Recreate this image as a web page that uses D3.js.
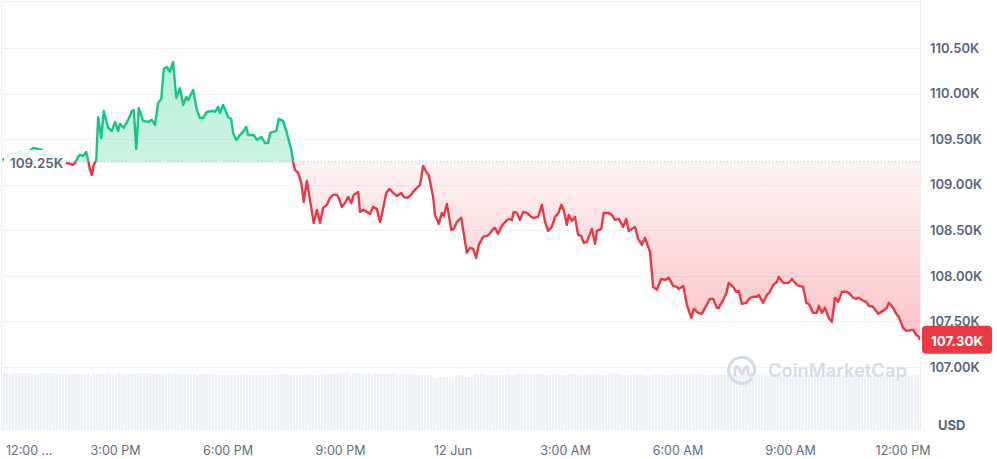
<!DOCTYPE html>
<html><head><meta charset="utf-8">
<script src="https://cdn.jsdelivr.net/npm/d3@7/dist/d3.min.js"></script>
<style>
html,body{margin:0;padding:0;background:#fff;}
svg{display:block;font-family:Inter,"Noto Sans",sans-serif;}
</style></head>
<body><svg id="c" width="997" height="459"></svg>
<script>
// minutes after 11 Jun 12:00 PM
const minutes = [0,12,28,36,49,57,63,68,76,84,92,102,108,113,116,121,124,129,134,137,140,143,146,150,153,158,162,169,175,180,185,188,194,201,207,210,214,218,225,233,239,244,249,254,258,263,268,273,278,284,289,294,297,305,311,316,321,327,335,340,345,348,353,361,366,369,374,380,386,390,393,402,407,414,420,425,428,438,442,449,455,462,465,468,473,478,482,487,498,503,508,513,519,524,529,535,538,543,548,553,558,562,569,572,577,583,588,593,599,604,607,614,619,625,631,638,642,647,654,657,663,668,673,679,682,689,692,698,703,706,711,718,722,727,734,737,743,748,753,758,762,769,775,778,785,788,793,799,806,810,815,818,823,828,833,839,846,850,857,863,868,873,879,884,889,894,898,903,906,911,916,921,926,930,935,943,948,951,958,962,969,975,980,986,993,998,1002,1012,1017,1023,1028,1036,1041,1047,1054,1060,1066,1073,1079,1082,1089,1095,1102,1106,1113,1119,1124,1132,1137,1143,1146,1153,1158,1162,1169,1174,1178,1183,1190,1196,1201,1207,1210,1217,1223,1228,1233,1239,1242,1249,1254,1258,1263,1268,1274,1281,1286,1290,1297,1303,1306,1311,1316,1322,1327,1332,1337,1343,1350,1354,1361,1366,1370,1377,1382,1386,1393,1401,1409,1415,1418,1425,1430,1434,1441,1446,1457,1462,1466,1468];
const prices = [109272,109327,109360,109327,109404,109393,109382,109327,109327,109294,109272,109239,109228,109217,109239,109305,109327,109316,109360,109272,109162,109107,109217,109272,109743,109513,109809,109623,109590,109689,109590,109667,109623,109711,109809,109820,109393,109842,109700,109689,109711,109656,109897,109941,110270,110292,110237,110347,109952,110061,109875,109963,109930,110039,109820,109732,109732,109798,109809,109798,109853,109787,109875,109743,109721,109568,109491,109546,109590,109634,109546,109546,109491,109524,109458,109458,109568,109590,109721,109700,109568,109382,109250,109162,109129,109020,108811,109042,108581,108724,108581,108746,108779,108855,108888,108888,108855,108757,108800,108866,108800,108888,108921,108702,108724,108702,108680,108757,108735,108592,108669,108910,108954,108910,108877,108910,108866,108855,108888,108921,108965,108998,109206,109129,109107,108866,108669,108570,108691,108658,108789,108504,108515,108592,108636,108504,108252,108307,108296,108197,108340,108428,108439,108450,108515,108526,108461,108548,108603,108625,108614,108702,108691,108614,108702,108691,108647,108636,108647,108779,108592,108493,108537,108647,108680,108779,108724,108559,108669,108603,108647,108450,108439,108362,108373,108515,108351,108493,108515,108691,108691,108669,108614,108625,108537,108625,108493,108537,108406,108340,108417,108263,107879,107847,107967,107956,107978,107890,107879,107857,107890,107682,107539,107638,107594,107583,107649,107748,107748,107649,107649,107737,107803,107923,107879,107825,107836,107693,107704,107759,107770,107770,107792,107704,107792,107825,107901,107934,107989,107923,107923,107923,107967,107923,107890,107879,107704,107693,107594,107594,107671,107594,107649,107539,107496,107759,107715,107825,107825,107814,107759,107748,107759,107726,107715,107671,107660,107583,107616,107649,107704,107649,107583,107550,107430,107397,107408,107353,107331,107300];
// 5-minute volume bars (relative units)
const volumes = [57,56,56,57,57,57,57,57,57,57,56,56,57,57,57,57,57,56,56,56,56,56,56,56,56,56,55,56,54,56,56,56,56,57,56,55,55,57,56,57,56,57,56,57,57,57,57,57,56,57,56,56,57,56,56,57,56,56,56,56,56,55,54,56,56,56,56,56,55,55,55,55,55,55,55,55,56,55,55,55,55,55,55,55,55,55,56,55,55,56,56,56,55,55,55,55,55,55,56,55,55,55,56,56,56,56,57,56,57,56,57,55,57,57,57,56,57,56,56,57,56,56,57,56,56,57,55,55,56,56,56,56,55,55,55,55,55,55,52,52,53,53,53,53,53,55,55,55,53,53,53,56,56,56,55,55,55,55,55,55,
55,56,56,55,55,56,56,56,55,55,56,56,57,56,55,55,56,56,55,55,55,56,56,56,55,54,55,55,56,56,56,55,55,55,56,56,57,56,55,55,55,55,56,56,55,55,54,54,55,55,56,56,55,55,55,56,56,55,55,56,56,57,56,56,55,55,55,56,56,55,55,55,56,56,56,55,55,55,56,56,55,55,56,57,56,55,55,56,56,55,55,54,55,55,56,56,56,55,55,55,56,56,55,55,55,56,56,56,55,55,56,56,55,55,56,56,55,55,55,56,56,55,55,56,56,56,55,55,55,56,56,55,56,55];
const baseline = 109250;
const lastPrice = 107300;
const yTicks = [107000,107500,108000,108500,109000,109500,110000,110500];
const xTickHours = [0,3,6,9,12,15,18,21,24];
const xTickLabels = ["12:00 ...","3:00 PM","6:00 PM","9:00 PM","12 Jun","3:00 AM","6:00 AM","9:00 AM","12:00 PM"];

const GREEN="#16c784", RED="#ea3943", GRID="#eff2f5", TXT="#58667e";
const t0 = new Date(2025,5,11,12,0);
const T = m => new Date(t0.getTime()+m*60000);
const data = minutes.map((m,i)=>({t:T(m), v:prices[i]}));

const svg = d3.select("#c");
const L=2.5, R=920, TOP=1.5, BOT=430;
const x = d3.scaleTime().domain([T(0),T(1468)]).range([L,R]);
const y = d3.scaleLinear().domain([107000,110500]).range([367,48]);
const yv = d3.scaleLinear().domain([0,60]).range([BOT,BOT-60]);
const yb = y(baseline);

const defs = svg.append("defs");
const gg = defs.append("linearGradient").attr("id","gG").attr("gradientUnits","userSpaceOnUse").attr("x1",0).attr("x2",0).attr("y1",y(110350)).attr("y2",yb);
gg.append("stop").attr("offset",0).attr("stop-color",GREEN).attr("stop-opacity",0.3);
gg.append("stop").attr("offset",1).attr("stop-color",GREEN).attr("stop-opacity",0.22);
const rg = defs.append("linearGradient").attr("id","gR").attr("gradientUnits","userSpaceOnUse").attr("x1",0).attr("x2",0).attr("y1",yb).attr("y2",y(107300));
rg.append("stop").attr("offset",0).attr("stop-color",RED).attr("stop-opacity",0.06);
rg.append("stop").attr("offset",1).attr("stop-color",RED).attr("stop-opacity",0.3);
defs.append("clipPath").attr("id","cA").append("rect").attr("x",0).attr("y",0).attr("width",R).attr("height",yb);
defs.append("clipPath").attr("id","cB").append("rect").attr("x",0).attr("y",yb).attr("width",R).attr("height",BOT-yb);

// frame
svg.append("line").attr("x1",1.5).attr("x2",R).attr("y1",TOP).attr("y2",TOP).attr("stroke","#eeeeee");
svg.append("line").attr("x1",1.5).attr("x2",1.5).attr("y1",TOP).attr("y2",BOT).attr("stroke","#eeeeee");
svg.append("line").attr("x1",R+0.5).attr("x2",R+0.5).attr("y1",TOP).attr("y2",BOT).attr("stroke","#eeeeee");

// grid
svg.append("g").selectAll("line").data(yTicks).join("line")
  .attr("x1",L).attr("x2",R).attr("y1",d=>Math.round(y(d))+0.5).attr("y2",d=>Math.round(y(d))+0.5)
  .attr("stroke",GRID).attr("stroke-width",1);

// volume
const bw = (R-L)/volumes.length;
svg.append("g").selectAll("rect").data(volumes).join("rect")
  .attr("x",(d,i)=>L+i*bw).attr("width",bw-0.7)
  .attr("y",d=>yv(d)).attr("height",d=>BOT-yv(d)).attr("fill","#edf0f4");

// watermark
const wm = svg.append("g").attr("transform","translate(742,370)");
wm.append("path").attr("d","M 9.5 9 A 13 13 0 1 1 12.5 3").attr("fill","none").attr("stroke","#d6dce6").attr("stroke-width",3.2).attr("stroke-linecap","round");
wm.append("path").attr("d","M -7 5 L -7 -1 Q -6 -5 -3.5 -2 L -1 3 Q 0 5 1 3 L 3 -2 Q 5 -5 6 -1 L 6 3 Q 7 7 11 4").attr("fill","none").attr("stroke","#d6dce6").attr("stroke-width",3).attr("stroke-linecap","round").attr("stroke-linejoin","round");
svg.append("text").attr("x",768).attr("y",377).text("CoinMarketCap")
  .attr("font-size",18.4).attr("font-weight",600).attr("fill","#d6dce6");

// areas
const area = d3.area().x(d=>x(d.t)).y0(yb).y1(d=>y(d.v));
svg.append("path").datum(data).attr("d",area).attr("fill","url(#gG)").attr("clip-path","url(#cA)");
svg.append("path").datum(data).attr("d",area).attr("fill","url(#gR)").attr("clip-path","url(#cB)");

// baseline dotted
svg.append("line").attr("x1",L).attr("x2",R).attr("y1",yb).attr("y2",yb)
  .attr("stroke","#a6b0c3").attr("stroke-width",1).attr("stroke-dasharray","1 2.5");

// lines
const line = d3.line().x(d=>x(d.t)).y(d=>y(d.v));
svg.append("path").datum(data).attr("d",line).attr("fill","none").attr("stroke",GREEN).attr("stroke-width",2.4).attr("stroke-linejoin","round").attr("clip-path","url(#cA)");
svg.append("path").datum(data).attr("d",line).attr("fill","none").attr("stroke",RED).attr("stroke-width",2.4).attr("stroke-linejoin","round").attr("clip-path","url(#cB)");

// baseline label
svg.append("rect").attr("x",4).attr("y",yb-12).attr("width",62).attr("height",25).attr("fill","#fff").attr("opacity",0.85);
svg.append("text").attr("x",10).attr("y",yb+1).attr("dominant-baseline","central")
  .attr("font-size",13.4).attr("font-weight",600).attr("fill",TXT).text(d3.format(".2f")(baseline/1000)+"K");

// y axis
const ya = svg.append("g").attr("transform",`translate(${R},0)`)
  .call(d3.axisRight(y).tickValues(yTicks).tickSize(0).tickPadding(10).tickFormat(d=>d3.format(".2f")(d/1000)+"K"));
ya.select(".domain").remove();
ya.selectAll("text").attr("font-family","Inter,sans-serif").attr("font-size",13).attr("font-weight",600).attr("fill",TXT);

// x axis
const xa = svg.append("g").attr("transform",`translate(0,440)`)
  .call(d3.axisBottom(x).tickValues(xTickHours.map(h=>T(h*60))).tickSize(0).tickPadding(6).tickFormat((d,i)=>xTickLabels[i]));
xa.select(".domain").remove();
xa.selectAll("text").attr("font-family","Inter,sans-serif").attr("font-size",12.5).attr("fill","#616e85");
xa.selectAll(".tick").filter((d,i)=>i===0).select("text").attr("text-anchor","start").attr("x",3);

// USD
svg.append("text").attr("x",938).attr("y",430).text("USD").attr("font-size",13).attr("font-weight",700).attr("fill",TXT);

// price tag
const py = y(lastPrice);
svg.append("rect").attr("x",922).attr("y",py-14).attr("width",70).attr("height",28).attr("rx",4).attr("fill",RED);
svg.append("text").attr("x",957).attr("y",py+1).attr("text-anchor","middle").attr("dominant-baseline","central")
  .attr("font-size",13.4).attr("font-weight",700).attr("fill","#fff").text(d3.format(".2f")(lastPrice/1000)+"K");
</script></body></html>
